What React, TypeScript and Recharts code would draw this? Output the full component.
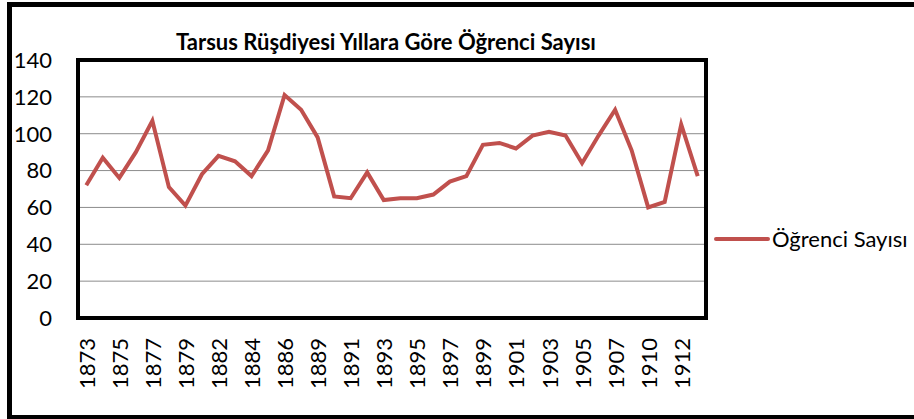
import React from "react";
import { LineChart, Line, XAxis, YAxis, CartesianGrid } from "recharts";

// categories (every other one is labelled on the axis)
const years = [
  "1873", "1874", "1875", "1876", "1877", "1878", "1879", "1881", "1882", "1883",
  "1884", "1885", "1886", "1888", "1889", "1890", "1891", "1892", "1893", "1894",
  "1895", "1896", "1897", "1898", "1899", "1900", "1901", "1902", "1903", "1904",
  "1905", "1906", "1907", "1909", "1910", "1911", "1912", "1913",
];

const students = [
  72, 87, 76, 90, 107, 71, 61, 78, 88, 85,
  77, 91, 121, 113, 98, 66, 65, 79, 64, 65,
  65, 67, 74, 77, 94, 95, 92, 99, 101, 99,
  84, 99, 113, 91, 60, 63, 105, 77,
];

const yTicks = [0, 20, 40, 60, 80, 100, 120, 140];

const SERIES_NAME = "Öğrenci Sayısı";
const TITLE = "Tarsus Rüşdiyesi Yıllara Göre Öğrenci Sayısı";
const RED = "#C0504D";
const FONT = "Lato, 'Open Sans', sans-serif";

const data = years.map((y, i) => ({ year: y, value: students[i] }));

function XTick({ x, y, payload }: any) {
  return (
    <text
      x={x}
      y={y}
      transform={`rotate(-90 ${x} ${y})`}
      textAnchor="end"
      dominantBaseline="central"
      fontSize={22}
      fontFamily={FONT}
      fill="#000"
    >
      {payload.value}
    </text>
  );
}

const border = { stroke: "#000", strokeWidth: 4, strokeLinecap: "square" as const };

export default function App() {
  return (
    <div
      style={{
        position: "absolute",
        left: 0,
        top: 0,
        width: 914,
        height: 419,
        overflow: "hidden",
        background: "#fff",
      }}
    >
      <div
        style={{
          position: "absolute",
          left: 7,
          top: 2,
          width: 940,
          height: 408,
          border: "5px solid #000",
        }}
      />
      <div
        style={{
          position: "absolute",
          left: 0,
          top: 29,
          width: 772,
          textAlign: "center",
          fontFamily: FONT,
          fontWeight: 700,
          fontSize: 22,
          lineHeight: "26px",
          color: "#000",
        }}
      >
        {TITLE}
      </div>
      <div style={{ position: "absolute", left: 0, top: 0 }}>
        <LineChart
          width={914}
          height={419}
          data={data}
          margin={{ top: 59, right: 207, bottom: 0, left: 0 }}
          style={{ fontFamily: FONT }}
        >
          <CartesianGrid vertical={false} stroke="#8c8c8c" strokeWidth={1} />
          <XAxis
            dataKey="year"
            scale="band"
            interval={1}
            height={101}
            tickSize={0}
            tickMargin={20}
            tickLine={false}
            axisLine={border}
            tick={<XTick />}
          />
          <XAxis xAxisId="top" dataKey="year" orientation="top" height={1} tick={false} tickLine={false} axisLine={border} />
          <YAxis
            domain={[0, 140]}
            ticks={yTicks}
            width={78}
            tickSize={0}
            tickMargin={26}
            tickLine={false}
            axisLine={border}
            tick={{ fontSize: 22, fill: "#000", fontFamily: FONT }}
          />
          <YAxis yAxisId="r" orientation="right" domain={[0, 140]} width={1} tick={false} tickLine={false} axisLine={border} />
          <Line
            type="linear"
            dataKey="value"
            name={SERIES_NAME}
            stroke={RED}
            strokeWidth={4}
            dot={false}
            isAnimationActive={false}
          />
        </LineChart>
      </div>
      {/* legend */}
      <div
        style={{
          position: "absolute",
          left: 714,
          top: 225,
          display: "flex",
          alignItems: "center",
          fontFamily: FONT,
          fontSize: 22,
          color: "#000",
        }}
      >
        <svg width={56} height={10}>
          <line x1={2} y1={5} x2={54} y2={5} stroke={RED} strokeWidth={4} strokeLinecap="round" />
        </svg>
        <span style={{ marginLeft: 2, whiteSpace: "nowrap" }}>{SERIES_NAME}</span>
      </div>
    </div>
  );
}
